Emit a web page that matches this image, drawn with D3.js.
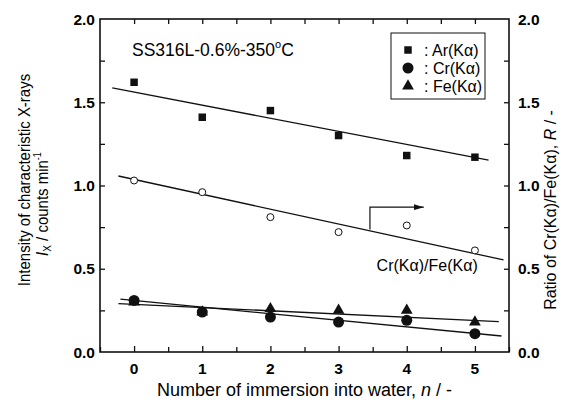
<!DOCTYPE html>
<html lang="en">
<head>
<meta charset="UTF-8">
<title>SS316L immersion chart</title>
<script src="https://d3js.org/d3.v7.min.js"></script>
<style>
    body { margin: 0; background: #fff; }
    svg { font-family: "Liberation Sans", Arial, sans-serif; }
    .tick-label { font-size: 15.5px; font-weight: bold; }
</style>
</head>
<body>
<div id="chart"></div>
<script>
    // immersion count n
    const immersions = [0, 1, 2, 3, 4, 5];
    const arValues = [1.62, 1.41, 1.45, 1.30, 1.18, 1.17];
    const crValues = [0.31, 0.24, 0.21, 0.18, 0.19, 0.11];
    const feValues = [0.30, 0.24, 0.26, 0.25, 0.25, 0.18];
    const ratioValues = [1.03, 0.96, 0.81, 0.72, 0.76, 0.61];

    // fitted lines, endpoints [n, value]
    const arFit = [[-0.32, 1.586], [5.2, 1.153]];
    const ratioFit = [[-0.23, 1.057], [5.42, 0.553]];
    const crFit = [[-0.2, 0.317], [5.39, 0.096]];
    const feFit = [[-0.23, 0.291], [5.35, 0.182]];

    const xTicks = [0, 1, 2, 3, 4, 5];
    const yTicks = [0, 0.5, 1.0, 1.5, 2.0];
    const legendNames = [": Ar(K\u03b1)", ": Cr(K\u03b1)", ": Fe(K\u03b1)"];

    const W = 568, H = 403;
    const margin = { top: 19, right: 59, bottom: 51, left: 100 };
    const width = W - margin.left - margin.right;
    const height = H - margin.top - margin.bottom;

    const svg = d3.select("#chart").append("svg")
        .attr("width", W)
        .attr("height", H);

    const g = svg.append("g")
        .attr("transform", `translate(${margin.left},${margin.top})`);

    const x = d3.scaleLinear().domain([-0.5, 5.5]).range([0, width]);
    const y = d3.scaleLinear().domain([0, 2]).range([height, 0]);
    const yR = d3.scaleLinear().domain([0, 2]).range([height, 0]);

    const minorX = d3.range(-0.5, 5.51, 0.5);
    const minorY = d3.range(0, 2.01, 0.25);

    // axes, ticks inside
    function styleAxis(sel) {
        sel.select(".domain").remove();
        sel.selectAll("line").attr("stroke", "#111").attr("stroke-width", 1.3);
    }

    const xAxis = g.append("g").attr("transform", `translate(0,${height})`)
        .call(d3.axisBottom(x).tickValues(minorX).tickSize(-5).tickFormat(""));
    styleAxis(xAxis);
    xAxis.selectAll(".tick")
        .filter(d => xTicks.includes(d))
        .select("line").attr("y2", -6);

    const xTop = g.append("g")
        .call(d3.axisTop(x).tickValues(minorX.filter(d => d > -0.5 && d < 5.5)).tickSize(-5).tickFormat(""));
    styleAxis(xTop);

    const yAxis = g.append("g")
        .call(d3.axisLeft(y).tickValues(minorY.filter(d => d > 0 && d < 2)).tickSize(-5).tickFormat(""));
    styleAxis(yAxis);

    const yAxisR = g.append("g").attr("transform", `translate(${width},0)`)
        .call(d3.axisRight(yR).tickValues(minorY.filter(d => d > 0 && d < 2)).tickSize(-5).tickFormat(""));
    styleAxis(yAxisR);

    // frame
    g.append("rect")
        .attr("width", width).attr("height", height)
        .attr("fill", "none").attr("stroke", "#111").attr("stroke-width", 1.6);

    // tick labels
    g.selectAll(".xl").data(xTicks).enter().append("text")
        .attr("class", "tick-label")
        .attr("x", d => x(d))
        .attr("y", height + 22)
        .attr("text-anchor", "middle")
        .text(d => d);

    g.selectAll(".yl").data(yTicks).enter().append("text")
        .attr("class", "tick-label")
        .attr("x", -5)
        .attr("y", d => y(d) + 5.5)
        .attr("text-anchor", "end")
        .text(d => d.toFixed(1));

    g.selectAll(".yr").data(yTicks).enter().append("text")
        .attr("class", "tick-label")
        .attr("x", width + 9)
        .attr("y", d => yR(d) + 5.5)
        .attr("text-anchor", "start")
        .text(d => d.toFixed(1));

    // axis titles
    const xt = g.append("text")
        .style("font-size", "18px")
        .attr("x", width / 2).attr("y", height + 44)
        .attr("text-anchor", "middle");
    xt.append("tspan").text("Number of immersion into water, ");
    xt.append("tspan").attr("font-style", "italic").text("n");
    xt.append("tspan").text(" / -");

    // vertical titles are a little taller than wide in the picture
    svg.append("text")
        .style("font-size", "15px")
        .attr("text-anchor", "middle")
        .attr("transform", "translate(30,180) rotate(-90) scale(1,1.12)")
        .text("Intensity of characteristic X-rays");

    const lt2 = svg.append("text")
        .style("font-size", "15px")
        .attr("text-anchor", "middle")
        .attr("transform", "translate(47.5,204) rotate(-90) scale(1,1.12)");
    lt2.append("tspan").attr("font-style", "italic").text("I");
    lt2.append("tspan").style("font-size", "10px").attr("dy", 3).text("X");
    lt2.append("tspan").attr("dy", -3).text(" / counts min");
    lt2.append("tspan").style("font-size", "9px").attr("dy", -6).text("-1");

    const rt = svg.append("text")
        .style("font-size", "16px")
        .attr("text-anchor", "middle")
        .attr("transform", "translate(556,210) rotate(-90) scale(1,1.08)");
    rt.append("tspan").text("Ratio of Cr(K\u03b1)/Fe(K\u03b1), ");
    rt.append("tspan").attr("font-style", "italic").text("R");
    rt.append("tspan").text(" / -");

    // fitted lines
    const line = d3.line().x(d => x(d[0])).y(d => y(d[1]));
    [arFit, ratioFit, crFit, feFit].forEach(f => {
        g.append("path").datum(f)
            .attr("d", line)
            .attr("fill", "none")
            .attr("stroke", "#111")
            .attr("stroke-width", 1.3);
    });

    const pts = (vals) => immersions.map((n, i) => [n, vals[i]]);

    // markers
    const sq = d3.symbol().type(d3.symbolSquare).size(56);
    const tri = d3.symbol().type(d3.symbolTriangle).size(60);

    g.selectAll(".ar").data(pts(arValues)).enter().append("path")
        .attr("d", sq)
        .attr("transform", d => `translate(${x(d[0])},${y(d[1])})`)
        .attr("fill", "#111");

    g.selectAll(".fe").data(pts(feValues)).enter().append("path")
        .attr("d", tri)
        .attr("transform", d => `translate(${x(d[0])},${y(d[1])})`)
        .attr("fill", "#111");

    g.selectAll(".cr").data(pts(crValues)).enter().append("circle")
        .attr("cx", d => x(d[0])).attr("cy", d => y(d[1]))
        .attr("r", 5.5).attr("fill", "#111");

    g.selectAll(".ratio").data(pts(ratioValues)).enter().append("circle")
        .attr("cx", d => x(d[0])).attr("cy", d => yR(d[1]))
        .attr("r", 3.5).attr("fill", "#fff")
        .attr("stroke", "#111").attr("stroke-width", 1);

    // arrow pointing to right axis
    svg.append("defs").append("marker")
        .attr("id", "head").attr("viewBox", "0 0 10 6")
        .attr("refX", 10).attr("refY", 3)
        .attr("markerWidth", 10).attr("markerHeight", 6)
        .attr("markerUnits", "userSpaceOnUse")
        .attr("orient", "auto")
        .append("path").attr("d", "M0,0 L10,3 L0,6 Z").attr("fill", "#111");

    g.append("path")
        .attr("d", `M${x(3.46)},${yR(0.735)} V${yR(0.87)} H${x(4.25)}`)
        .attr("fill", "none").attr("stroke", "#111").attr("stroke-width", 1.2)
        .attr("marker-end", "url(#head)");

    g.append("text")
        .style("font-size", "16px")
        .attr("x", x(4.3)).attr("y", yR(0.485))
        .attr("text-anchor", "middle")
        .text("Cr(K\u03b1)/Fe(K\u03b1)");

    // sample label
    const sl = g.append("text")
        .attr("x", 32).attr("y", 37)
        .style("font-size", "17.5px");
    sl.append("tspan").text("SS316L-0.6%-350");
    sl.append("tspan").style("font-size", "11px").attr("dy", -8).text("o");
    sl.append("tspan").attr("dy", 8).text("C");

    // legend
    const lg = g.append("g").attr("transform", "translate(291,14)");
    lg.append("rect").attr("width", 94).attr("height", 66)
        .attr("fill", "#fff").attr("stroke", "#111").attr("stroke-width", 1);
    const legendShapes = [
        s => s.append("path").attr("d", sq).attr("fill", "#111"),
        s => s.append("circle").attr("r", 5.5).attr("fill", "#111"),
        s => s.append("path").attr("d", tri).attr("fill", "#111")
    ];
    legendNames.forEach((name, i) => {
        const row = lg.append("g").attr("transform", `translate(17,${17 + i * 18})`);
        legendShapes[i](row);
        row.append("text")
            .style("font-size", "16px")
            .attr("x", 16).attr("y", 5.5)
            .text(name);
    });
</script>
</body>
</html>
